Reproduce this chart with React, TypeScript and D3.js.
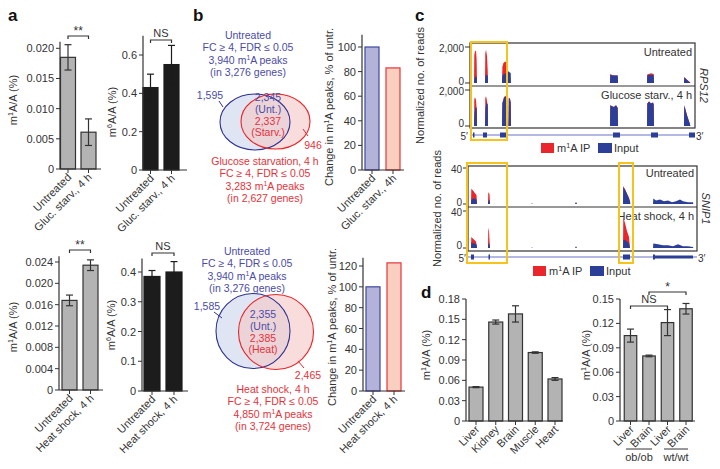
import React from 'react';
import * as d3 from 'd3';

const FONT = "'Liberation Sans', Arial, Helvetica, sans-serif";
const TXT = '#333333';
const BLUE_T = '#4b4ba6';
const RED_T = '#e5323b';
const IP_RED = '#e8262b';
const IN_BLUE = '#2b3f98';
const YEL = '#f6c21c';

// ---------- Panel a ----------
const glucCats = ['Untreated', 'Gluc. starv., 4 h'];
const glucM1A = [0.0185, 0.0061];
const glucM1AErr = [0.0021, 0.0022];
const glucM6A = [0.43, 0.55];
const glucM6AErr = [0.07, 0.1];
const heatCats = ['Untreated', 'Heat shock, 4 h'];
const heatM1A = [0.0168, 0.0234];
const heatM1AErr = [0.001, 0.001];
const heatM6A = [0.385, 0.4];
const heatM6AErr = [0.02, 0.035];
const ticksA1 = [0, 0.005, 0.01, 0.015, 0.02];
const ticksA2 = [0, 0.2, 0.4, 0.6];
const ticksA3 = [0, 0.004, 0.008, 0.012, 0.016, 0.02, 0.024];
const ticksA4 = [0, 0.1, 0.2, 0.3, 0.4];

// ---------- Panel b ----------
const peakCatsGluc = ['Untreated', 'Gluc. starv., 4h'];
const peakChangeGluc = [100, 83];
const peakCatsHeat = ['Untreated', 'Heat shock, 4 h'];
const peakChangeHeat = [100, 123];
const ticksB1 = [0, 20, 40, 60, 80, 100];
const ticksB2 = [0, 20, 40, 60, 80, 100, 120];
const vennGlucText = ['Untreated', 'FC ≥ 4, FDR ≤ 0.05', '3,940', '(in 3,276 genes)'];
const vennGlucStarvText = ['Glucose starvation, 4 h', 'FC ≥ 4, FDR ≤ 0.05', '3,283', '(in 2,627 genes)'];
const vennGlucCounts = ['1,595', '2,345', '(Unt.)', '2,337', '(Starv.)', '946'];
const vennHeatText = ['Untreated', 'FC ≥ 4, FDR ≤ 0.05', '3,940', '(in 3,276 genes)'];
const vennHeatShockText = ['Heat shock, 4 h', 'FC ≥ 4, FDR ≤ 0.05', '4,850', '(in 3,724 genes)'];
const vennHeatCounts = ['1,585', '2,355', '(Unt.)', '2,385', '(Heat)', '2,465'];

// ---------- Panel c ----------
type Pt = [number, number];
const rpsUntIP: Pt[][] = [
  [[4, 0], [4.3, 1550], [5, 1750], [6, 1800], [6.6, 1300], [7, 0]],
  [[15, 0], [15.3, 1650], [16, 1850], [17, 1500], [17.7, 700], [18, 0]],
  [[32, 0], [32.4, 900], [33.5, 1100], [35, 1200], [36.5, 1150], [37.5, 800], [38.2, 0]],
  [[140, 0], [140.3, 500], [143, 420], [147.7, 420], [148, 0]],
  [[177, 0], [177.3, 470], [181, 540], [183.7, 500], [184, 0]],
  [[214, 0], [214.3, 330], [217, 180], [220, 40], [220.3, 0]],
];
const rpsUntIn: Pt[][] = [
  [[4, 0], [4.3, 250], [5.5, 350], [6.8, 350], [7, 0]],
  [[15, 0], [15.3, 400], [16.5, 450], [17.8, 420], [18, 0]],
  [[32, 0], [32.4, 450], [35, 520], [37.5, 600], [38.5, 650], [39.5, 600], [40.7, 550], [41, 0]],
  [[140, 0], [140.3, 490], [141, 430], [147.7, 410], [148, 0]],
  [[177, 0], [177.3, 440], [183.7, 450], [184, 0]],
  [[214, 0], [214.3, 320], [217, 170], [220, 30], [220.3, 0]],
];
const rpsStvIP: Pt[][] = [
  [[4, 0], [4.3, 1500], [5, 1600], [6, 1450], [6.7, 900], [7, 0]],
  [[15, 0], [15.3, 1550], [16, 1650], [17, 1400], [17.8, 1000], [18, 0]],
  [[32, 0], [32.4, 1300], [34, 1600], [35.5, 1700], [36.5, 1500], [37.5, 1300], [38.2, 0]],
  [[38.5, 0], [38.8, 1580], [40, 1520], [40.7, 1300], [41, 0]],
  [[140, 0], [140.3, 1150], [142, 1100], [144, 1050], [146, 1150], [147.7, 1000], [148, 0]],
  [[177, 0], [177.3, 1250], [179, 1380], [181, 1250], [183, 1300], [183.7, 1200], [184, 0]],
  [[214, 0], [214.3, 1150], [217, 600], [220, 100], [220.3, 0]],
];
const rpsStvIn: Pt[][] = [
  [[4, 0], [4.5, 700], [5.5, 1050], [6.8, 1000], [7, 0]],
  [[15, 0], [15.5, 1000], [16.5, 1300], [17.8, 1200], [18, 0]],
  [[32, 0], [32.4, 1250], [34, 1550], [35.5, 1650], [37.5, 1450], [38.2, 0]],
  [[38.5, 0], [38.8, 1550], [40, 1500], [40.7, 1300], [41, 0]],
  [[140, 0], [140.3, 1150], [142, 1100], [144, 1050], [146, 1150], [147.7, 1000], [148, 0]],
  [[177, 0], [177.3, 1250], [179, 1350], [181, 1250], [183, 1300], [183.7, 1200], [184, 0]],
  [[214, 0], [214.3, 1150], [217, 600], [220, 100], [220.3, 0]],
];
const rpsExons: Pt[] = [[3, 4.5], [13, 17], [30, 37], [143, 150], [181, 188], [219, 225]];

const snipUntIP: Pt[][] = [
  [[3, 0], [3.3, 17], [5, 15], [7, 12], [8.5, 10], [9, 0]],
  [[20, 0], [20.3, 13], [21.5, 11], [22, 0]],
  [[155, 0], [155.3, 20], [158, 14], [161, 7], [162.3, 0]],
];
const snipUntIn: Pt[][] = [
  [[3, 0], [3.3, 5], [6, 6], [8.5, 5], [9, 0]],
  [[20, 0], [20.3, 4], [21.7, 4], [22, 0]],
  [[63.5, 0], [64, 1.5], [64.5, 0]],
  [[107, 0], [108, 2.5], [109, 0]],
  [[155, 0], [155.3, 19], [157, 16], [159, 11], [161, 6], [162, 3], [162.3, 0]],
  [[185, 0], [185.3, 6], [188, 4], [192, 5], [196, 3], [200, 4], [204, 2], [208, 3], [212, 5], [215, 3], [220, 2], [225, 2], [225.3, 0]],
];
const snipHeatIP: Pt[][] = [
  [[3, 0], [3.3, 12], [5, 10], [8, 7], [9, 0]],
  [[20, 0], [20.3, 22], [21, 18], [22, 0]],
  [[155, 0], [155.3, 33], [157, 27], [159, 18], [161, 12], [162, 0]],
];
const snipHeatIn: Pt[][] = [
  [[3, 0], [3.3, 6], [6, 5], [8.5, 4], [9, 0]],
  [[20, 0], [20.3, 5], [21.7, 4], [22, 0]],
  [[63.5, 0], [64, 1], [64.5, 0]],
  [[107, 0], [108, 2], [109, 0]],
  [[155, 0], [155.3, 9], [158, 8], [161, 5], [162, 0]],
  [[185, 0], [185.3, 5], [190, 4], [195, 3], [200, 3], [205, 2], [210, 4], [215, 2], [220, 2], [225, 1], [225.3, 0]],
];
const snipExons: Pt[] = [[3, 6], [20.5, 22], [155, 162], [185, 187]];
const snipUtr: Pt = [187, 225];

// ---------- Panel d ----------
const tissueCats = ['Liver', 'Kidney', 'Brain', 'Muscle', 'Heart'];
const tissueM1A = [0.05, 0.146, 0.158, 0.101, 0.062];
const tissueErr = [0.0008, 0.003, 0.012, 0.001, 0.002];
const obCats = ['Liver', 'Brain', 'Liver ', 'Brain '];
const obM1A = [0.105, 0.08, 0.121, 0.138];
const obErr = [0.008, 0.001, 0.016, 0.0065];
const ticksD1 = [0, 0.03, 0.06, 0.09, 0.12, 0.15, 0.18];
const ticksD2 = [0, 0.03, 0.06, 0.09, 0.12, 0.15];

const sup = (pre: string, s: string, post: string, fs: number) => (
  <>
    <tspan>{pre}</tspan>
    <tspan dy={-fs * 0.38} fontSize={fs * 0.65}>{s}</tspan>
    <tspan dy={fs * 0.38}>{post}</tspan>
  </>
);

type BarProps = {
  cats: string[]; vals: number[]; errs?: number[];
  ax: number; y0: number; refVal: number; refY: number; maxVal: number;
  ticks: number[]; fmt: (d: number) => string;
  c0: number; c1: number; barW: number; axEnd: number;
  fills: string[]; strokes: string[]; errColor: string;
  yLabel: React.ReactNode; labelX: number; labelY: number;
  brackets?: { i: number; j: number; y: number; t: string }[];
};

function BarChart(p: BarProps) {
  const y = d3.scaleLinear().domain([0, p.refVal]).range([p.y0, p.refY]);
  const x = d3.scalePoint<string>().domain(p.cats).range([p.c0, p.c1]);
  const fs = 11;
  return (
    <g>
      {p.cats.map((c, i) => {
        const cx = x(c)!;
        const v = p.vals[i];
        return (
          <g key={i}>
            <rect x={cx - p.barW / 2} y={y(v)} width={p.barW} height={p.y0 - y(v)} fill={p.fills[i]} stroke={p.strokes[i]} strokeWidth={1.2} />
            {p.errs && (
              <g stroke={p.errColor} strokeWidth={1.2}>
                <line x1={cx} x2={cx} y1={y(v - p.errs[i])} y2={y(v + p.errs[i])} />
                <line x1={cx - 3.5} x2={cx + 3.5} y1={y(v + p.errs[i])} y2={y(v + p.errs[i])} />
                <line x1={cx - 3.5} x2={cx + 3.5} y1={y(v - p.errs[i])} y2={y(v - p.errs[i])} />
              </g>
            )}
            <line x1={cx} x2={cx} y1={p.y0} y2={p.y0 + 4} stroke={TXT} strokeWidth={1} />
            <text transform={`translate(${cx + 4},${p.y0 + 9}) rotate(-45)`} textAnchor="end" fontSize={fs} fill={TXT}>{c.trim()}</text>
          </g>
        );
      })}
      <line x1={p.ax} x2={p.ax} y1={p.y0} y2={y(p.maxVal)} stroke={TXT} strokeWidth={1.2} />
      <line x1={p.ax} x2={p.axEnd} y1={p.y0} y2={p.y0} stroke={TXT} strokeWidth={1.2} />
      {p.ticks.map((t, i) => (
        <g key={i}>
          <line x1={p.ax - 4} x2={p.ax} y1={y(t)} y2={y(t)} stroke={TXT} strokeWidth={1} />
          <text x={p.ax - 6} y={y(t) + 4} textAnchor="end" fontSize={fs} fill={TXT}>{p.fmt(t)}</text>
        </g>
      ))}
      <text transform={`translate(${p.labelX},${p.labelY}) rotate(-90)`} textAnchor="middle" fontSize={fs} fill={TXT}>{p.yLabel}</text>
      {p.brackets && p.brackets.map((b, k) => {
        const x1 = x(p.cats[b.i])!, x2 = x(p.cats[b.j])!;
        return (
          <g key={k}>
            <path d={`M${x1},${b.y + 3}V${b.y}H${x2}V${b.y + 3}`} fill="none" stroke={TXT} strokeWidth={1.2} />
            <text x={(x1 + x2) / 2} y={b.t === 'NS' ? b.y - 3 : b.y - 1} textAnchor="middle" fontSize={b.t === 'NS' ? 11 : 12} fill={TXT}>{b.t}</text>
          </g>
        );
      })}
    </g>
  );
}

const fmtZero = (f: string) => (d: number) => (d === 0 ? '0' : d3.format(f)(d));

function Venn(p: {
  bc: Pt; br: Pt; rc: Pt; rr: Pt; topLines: string[]; botLines: string[]; counts: string[];
  topX: number; topY: number; botX: number; botY: number;
  leftPos: Pt; leftLine: [Pt, Pt]; midX: number; midY: number; rightPos: Pt; rightLine: [Pt, Pt];
}) {
  const fs = 10.5, lh = 12.3;
  const lines = (arr: string[], x: number, y: number, col: string) =>
    arr.map((t, i) => (
      <text key={i} x={x} y={y + i * lh} textAnchor="middle" fontSize={fs} fill={col}>
        {i === 2 ? sup(t + ' m', '1', 'A peaks', fs) : t}
      </text>
    ));
  return (
    <g>
      <ellipse cx={p.bc[0]} cy={p.bc[1]} rx={p.br[0]} ry={p.br[1]} fill="#dfe5f3" />
      <ellipse cx={p.rc[0]} cy={p.rc[1]} rx={p.rr[0]} ry={p.rr[1]} fill="#f5c7c7" fillOpacity={0.6} />
      <ellipse cx={p.bc[0]} cy={p.bc[1]} rx={p.br[0]} ry={p.br[1]} fill="none" stroke="#2e3192" strokeWidth={1.1} />
      <ellipse cx={p.rc[0]} cy={p.rc[1]} rx={p.rr[0]} ry={p.rr[1]} fill="none" stroke={IP_RED} strokeWidth={1.1} />
      {lines(p.topLines, p.topX, p.topY, BLUE_T)}
      {lines(p.botLines, p.botX, p.botY, RED_T)}
      <text x={p.leftPos[0]} y={p.leftPos[1]} textAnchor="middle" fontSize={fs} fill={BLUE_T}>{p.counts[0]}</text>
      <line x1={p.leftLine[0][0]} y1={p.leftLine[0][1]} x2={p.leftLine[1][0]} y2={p.leftLine[1][1]} stroke="#2e3192" strokeWidth={1} />
      <text x={p.midX} y={p.midY} textAnchor="middle" fontSize={fs} fill={BLUE_T}>{p.counts[1]}</text>
      <text x={p.midX} y={p.midY + 11.5} textAnchor="middle" fontSize={fs} fill={BLUE_T}>{p.counts[2]}</text>
      <text x={p.midX} y={p.midY + 23.5} textAnchor="middle" fontSize={fs} fill={RED_T}>{p.counts[3]}</text>
      <text x={p.midX} y={p.midY + 35} textAnchor="middle" fontSize={fs} fill={RED_T}>{p.counts[4]}</text>
      <text x={p.rightPos[0]} y={p.rightPos[1]} textAnchor="middle" fontSize={fs} fill={RED_T}>{p.counts[5]}</text>
      <line x1={p.rightLine[0][0]} y1={p.rightLine[0][1]} x2={p.rightLine[1][0]} y2={p.rightLine[1][1]} stroke={IP_RED} strokeWidth={1} />
    </g>
  );
}

function Tracks(p: {
  x0: number; x1: number; dmax: number; yMax: number; fmt: (d: number) => string;
  tr: { base: number; top: number; ip: Pt[][]; inp: Pt[][]; label: string }[];
  frameTop: number; frameBot: number; gy: number; exons: Pt[]; utr?: Pt;
  boxes: Pt[]; boxTop: number; boxBot: number; gene: string; labelX: number;
  legY: number; legX: number;
}) {
  const x = d3.scaleLinear().domain([0, p.dmax]).range([p.x0, p.x1]);
  const fs = 11;
  const tfs = 10;
  return (
    <g>
      {p.tr.map((t, k) => {
        const y = d3.scaleLinear().domain([0, p.yMax]).range([t.base, t.top]);
        const area = d3.area<Pt>().x(d => x(d[0])).y0(y(0)).y1(d => y(d[1]));
        return (
          <g key={k}>
            {t.ip.map((s, i) => <path key={'r' + i} d={area(s)!} fill={IP_RED} />)}
            {t.inp.map((s, i) => <path key={'b' + i} d={area(s)!} fill={IN_BLUE} />)}
            {[0, p.yMax].map((v, i) => (
              <g key={i}>
                <line x1={p.x0 - 5} x2={p.x0} y1={y(v)} y2={y(v)} stroke={TXT} strokeWidth={1} />
                <text x={p.x0 - 6} y={y(v) + (i === 0 ? (k === 1 ? 1 : 2) : 5)} textAnchor="end" fontSize={tfs} fill={TXT}>{p.fmt(v)}</text>
              </g>
            ))}
            <text x={p.x1 - 3} y={t.top + 9} textAnchor="end" fontSize={fs} fill={TXT}>{t.label}</text>
          </g>
        );
      })}
      <rect x={p.x0} y={p.frameTop} width={p.x1 - p.x0} height={p.frameBot - p.frameTop} fill="none" stroke={TXT} strokeWidth={1.2} />
      <line x1={p.x0} x2={p.x1} y1={p.tr[0].base + 3} y2={p.tr[0].base + 3} stroke={TXT} strokeWidth={1.2} />
      <line x1={p.x0} x2={p.x1} y1={p.gy} y2={p.gy} stroke="#6673c4" strokeWidth={1} />
      {p.exons.map((e, i) => <rect key={i} x={x(e[0])} y={p.gy - 2.5} width={Math.max(1.5, x(e[1]) - x(e[0]))} height={5} fill={IN_BLUE} />)}
      {p.utr && <rect x={x(p.utr[0])} y={p.gy - 1.5} width={x(p.utr[1]) - x(p.utr[0])} height={3} fill={IN_BLUE} />}
      <text x={p.x0 - 2} y={p.gy + 4.5} textAnchor="end" fontSize={10} fill={TXT}>5′</text>
      <text x={p.x1 + 1} y={p.gy + 4.5} textAnchor="start" fontSize={10} fill={TXT}>3′</text>
      {p.boxes.map((b, i) => (
        <rect key={i} x={x(b[0])} y={p.boxTop} width={x(b[1]) - x(b[0])} height={p.boxBot - p.boxTop} fill="none" stroke={YEL} strokeWidth={2} />
      ))}
      <text transform={`translate(${p.x1 + 5},${(p.frameTop + p.frameBot) / 2}) rotate(90)`} textAnchor="middle" fontSize={fs} fontStyle="italic" fill={TXT}>{p.gene}</text>
      <text transform={`translate(${p.labelX},${(p.frameTop + p.frameBot) / 2}) rotate(-90)`} textAnchor="middle" fontSize={fs} fill={TXT}>Normalized no. of reads</text>
      <rect x={p.legX} y={p.legY - 5} width={13} height={10} fill={IP_RED} />
      <text x={p.legX + 16} y={p.legY + 4} fontSize={fs} fill={TXT}>{sup('m', '1', 'A IP', fs)}</text>
      <rect x={p.legX + 57} y={p.legY - 5} width={14} height={10} fill={IN_BLUE} />
      <text x={p.legX + 73} y={p.legY + 4} fontSize={fs} fill={TXT}>Input</text>
    </g>
  );
}

export default function App() {
  const gray = '#b3b3b3', dark = '#333333', black = '#1c1c1c';
  const m1a = sup('m', '1', 'A/A (%)', 11);
  const m6a = sup('m', '6', 'A/A (%)', 11);
  const chg = sup('Change in m', '1', 'A peaks, % of untr.', 11);
  return (
    <div style={{ position: 'absolute', left: 0, top: 0 }}>
      <svg width={720} height={469} style={{ display: 'block', fontFamily: FONT }}>
        <rect width={720} height={469} fill="#fff" />
        {/* panel letters */}
        <text x={8} y={21} fontSize={17} fontWeight="bold" fill="#111">a</text>
        <text x={193} y={21} fontSize={17} fontWeight="bold" fill="#111">b</text>
        <text x={415} y={21} fontSize={17} fontWeight="bold" fill="#111">c</text>
        <text x={421} y={298} fontSize={17} fontWeight="bold" fill="#111">d</text>

        {/* Panel a */}
        <BarChart cats={glucCats} vals={glucM1A} errs={glucM1AErr} ax={60} y0={169} refVal={0.02} refY={48.3} maxVal={0.0211}
          ticks={ticksA1} fmt={fmtZero('.3f')} c0={68} c1={88.5} barW={15} axEnd={101}
          fills={[gray, gray]} strokes={[dark, dark]} errColor={dark} yLabel={m1a} labelX={17} labelY={100}
          brackets={[{ i: 0, j: 1, y: 36, t: '**' }]} />
        <BarChart cats={glucCats} vals={glucM6A} errs={glucM6AErr} ax={143} y0={170} refVal={0.6} refY={55} maxVal={0.7}
          ticks={ticksA2} fmt={fmtZero('.1f')} c0={150.5} c1={171.5} barW={15} axEnd={187}
          fills={[black, black]} strokes={[black, black]} errColor={black} yLabel={m6a} labelX={116} labelY={112}
          brackets={[{ i: 0, j: 1, y: 40, t: 'NS' }]} />
        <BarChart cats={heatCats} vals={heatM1A} errs={heatM1AErr} ax={59} y0={390} refVal={0.024} refY={262} maxVal={0.0251}
          ticks={ticksA3} fmt={fmtZero('.3f')} c0={69.5} c1={90.5} barW={15} axEnd={103}
          fills={[gray, gray]} strokes={[dark, dark]} errColor={dark} yLabel={m1a} labelX={17} labelY={327}
          brackets={[{ i: 0, j: 1, y: 250, t: '**' }]} />
        <BarChart cats={heatCats} vals={heatM6A} errs={heatM6AErr} ax={142} y0={391} refVal={0.4} refY={272} maxVal={0.445}
          ticks={ticksA4} fmt={fmtZero('.1f')} c0={152} c1={174} barW={16} axEnd={188}
          fills={[black, black]} strokes={[black, black]} errColor={black} yLabel={m6a} labelX={115} labelY={325}
          brackets={[{ i: 0, j: 1, y: 253, t: 'NS' }]} />

        {/* Panel b */}
        <Venn bc={[255, 122]} br={[35, 28]} rc={[275.5, 121.5]} rr={[34.5, 27.5]}
          topLines={vennGlucText} botLines={vennGlucStarvText} counts={vennGlucCounts}
          topX={248} topY={39} botX={265} botY={165}
          leftPos={[210, 99]} leftLine={[[219, 101], [223, 107]]} midX={268} midY={101}
          rightPos={[313, 149]} rightLine={[[303, 129], [308, 136]]} />
        <Venn bc={[253, 331]} br={[37, 37.5]} rc={[276, 332]} rr={[37.5, 37.5]}
          topLines={vennHeatText} botLines={vennHeatShockText} counts={vennHeatCounts}
          topX={247} topY={255} botX={273} botY={393}
          leftPos={[207, 310]} leftLine={[[214, 312], [222, 318]]} midX={263} midY={318}
          rightPos={[308, 379]} rightLine={[[298, 361], [304, 368]]} />
        <BarChart cats={peakCatsGluc} vals={peakChangeGluc} ax={362} y0={170} refVal={100} refY={47} maxVal={110}
          ticks={ticksB1} fmt={d3.format('d')} c0={372} c1={393} barW={14} axEnd={404}
          fills={['#b3b3da', '#f9cfc0']} strokes={['#3d48a0', '#e8343a']} errColor={dark} yLabel={chg} labelX={333} labelY={107} />
        <BarChart cats={peakCatsHeat} vals={peakChangeHeat} ax={363} y0={391} refVal={120} refY={266} maxVal={128}
          ticks={ticksB2} fmt={d3.format('d')} c0={373} c1={394} barW={14} axEnd={405}
          fills={['#b3b3da', '#f9cfc0']} strokes={['#3d48a0', '#e8343a']} errColor={dark} yLabel={chg} labelX={336} labelY={327} />

        {/* Panel c */}
        <Tracks x0={470} x1={695} dmax={225} yMax={2000} fmt={d3.format(',')}
          tr={[
            { base: 83, top: 47, ip: rpsUntIP, inp: rpsUntIn, label: 'Untreated' },
            { base: 126, top: 90, ip: rpsStvIP, inp: rpsStvIn, label: 'Glucose starv., 4 h' },
          ]}
          frameTop={43} frameBot={128} gy={135} exons={rpsExons}
          boxes={[[1, 37]]} boxTop={42} boxBot={140} gene="RPS12" labelX={424} legY={148} legX={541} />
        <Tracks x0={468} x1={697} dmax={229} yMax={40} fmt={d3.format(',')}
          tr={[
            { base: 204, top: 168, ip: snipUntIP, inp: snipUntIn, label: 'Untreated' },
            { base: 248, top: 211, ip: snipHeatIP, inp: snipHeatIn, label: 'Heat shock, 4 h' },
          ]}
          frameTop={166} frameBot={251} gy={257} exons={snipExons} utr={snipUtr}
          boxes={[[-1, 39], [151, 165]]} boxTop={163} boxBot={263} gene="SNIP1" labelX={441} legY={271} legX={533} />

        {/* Panel d */}
        <BarChart cats={tissueCats} vals={tissueM1A} errs={tissueErr} ax={466} y0={421} refVal={0.18} refY={299} maxVal={0.18}
          ticks={ticksD1} fmt={fmtZero('.2f')} c0={476} c1={555} barW={14} axEnd={563}
          fills={[gray, gray, gray, gray, gray]} strokes={[dark, dark, dark, dark, dark]} errColor={dark} yLabel={m1a} labelX={430} labelY={355} />
        <BarChart cats={obCats} vals={obM1A} errs={obErr} ax={620} y0={421} refVal={0.15} refY={299} maxVal={0.15}
          ticks={ticksD2} fmt={fmtZero('.2f')} c0={630.5} c1={686} barW={12.5} axEnd={695}
          fills={[gray, gray, gray, gray]} strokes={[dark, dark, dark, dark]} errColor={dark} yLabel={m1a} labelX={590} labelY={355}
          brackets={[{ i: 0, j: 2, y: 306, t: 'NS' }, { i: 1, j: 3, y: 292, t: '*' }]} />
        <line x1={626} x2={652} y1={449} y2={449} stroke={TXT} strokeWidth={1} />
        <text x={639} y={461} textAnchor="middle" fontSize={11} fill={TXT}>ob/ob</text>
        <line x1={664} x2={688} y1={449} y2={449} stroke={TXT} strokeWidth={1} />
        <text x={676} y={461} textAnchor="middle" fontSize={11} fill={TXT}>wt/wt</text>
      </svg>
    </div>
  );
}
